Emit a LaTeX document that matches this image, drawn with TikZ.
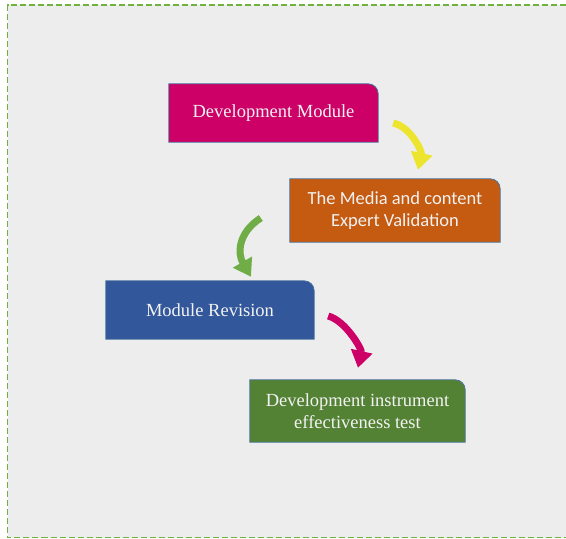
\documentclass[tikz,border=0pt]{standalone}
\usepackage{fontspec}
\setmainfont{Liberation Serif}
\newfontfamily\stagesans{Carlito}
\usetikzlibrary{arrows.meta,calc,backgrounds}

\definecolor{pagegray}{RGB}{237,237,237}
\definecolor{framegreen}{RGB}{112,178,62}
\definecolor{edgeblue}{RGB}{72,115,160}
\definecolor{devpink}{RGB}{204,0,102}
\definecolor{valorange}{RGB}{197,90,17}
\definecolor{revblue}{RGB}{50,87,155}
\definecolor{testgreen}{RGB}{84,130,53}
\definecolor{turnyellow}{RGB}{236,228,45}
\definecolor{turngreen}{RGB}{112,173,71}
\definecolor{turnpink}{RGB}{204,0,102}

\begin{document}
\begin{tikzpicture}[
  x=1pt, y=1pt,
  stage/.style={inner sep=0pt, align=center, text=white!95!black,
                font=\fontsize{18.5}{22}\selectfont},
  turn/.style={line width=7pt, -{Triangle[width=21pt,length=17pt]}}
]
\useasboundingbox (0,0) rectangle (566,-539);

\node[stage, minimum width=209pt, minimum height=58pt] (dev)   at (273.5,-113) {Development Module};
\node[stage, minimum width=210pt, minimum height=63pt,
      font=\stagesans\fontsize{18.5}{22}\selectfont] (media) at (395,-210.5) {The Media and content\\Expert Validation};
\node[stage, minimum width=208pt, minimum height=58pt] (rev)   at (210,-310) {Module Revision};
\node[stage, minimum width=215pt, minimum height=62pt] (test)  at (357.5,-411) {Development instrument\\effectiveness test};

% page frame and box shapes with one rounded corner, behind the text
\begin{scope}[on background layer]
  \fill[white] (0,0) rectangle (566,-539);
  \fill[pagegray] (7.5,-5) rectangle (566,-537.5);
  \draw[framegreen, line width=1.2pt, dash pattern=on 6pt off 3pt]
    (566,-5) -- (7.5,-5) -- (7.5,-537.5) -- (566,-537.5);
  \foreach \n/\c in {dev/devpink, media/valorange, rev/revblue, test/testgreen}
    \filldraw[fill=\c, draw=edgeblue, line width=0.8pt]
      (\n.south west) -- (\n.north west) -- ([xshift=-10pt]\n.north east)
      arc[start angle=90, end angle=0, radius=10pt] -- (\n.south east) -- cycle;
\end{scope}

% curved arrows between the stages
\draw[turn, turnyellow] ($(dev.east)+(15,-10)$)
  .. controls +(18,-4) and +(4,18) .. ($(media.north)+(23,9)$);
\draw[turn, turngreen] ($(media.west)+(-29,-7.5)$)
  .. controls +(-22,-14) and +(-14,24) .. ($(rev.north)+(41,4)$);
\draw[turn, turnpink] ($(rev.east)+(14,-6)$)
  .. controls +(18,-5) and +(4,18) .. ($(test.north)+(0.5,12)$);
\end{tikzpicture}
\end{document}
